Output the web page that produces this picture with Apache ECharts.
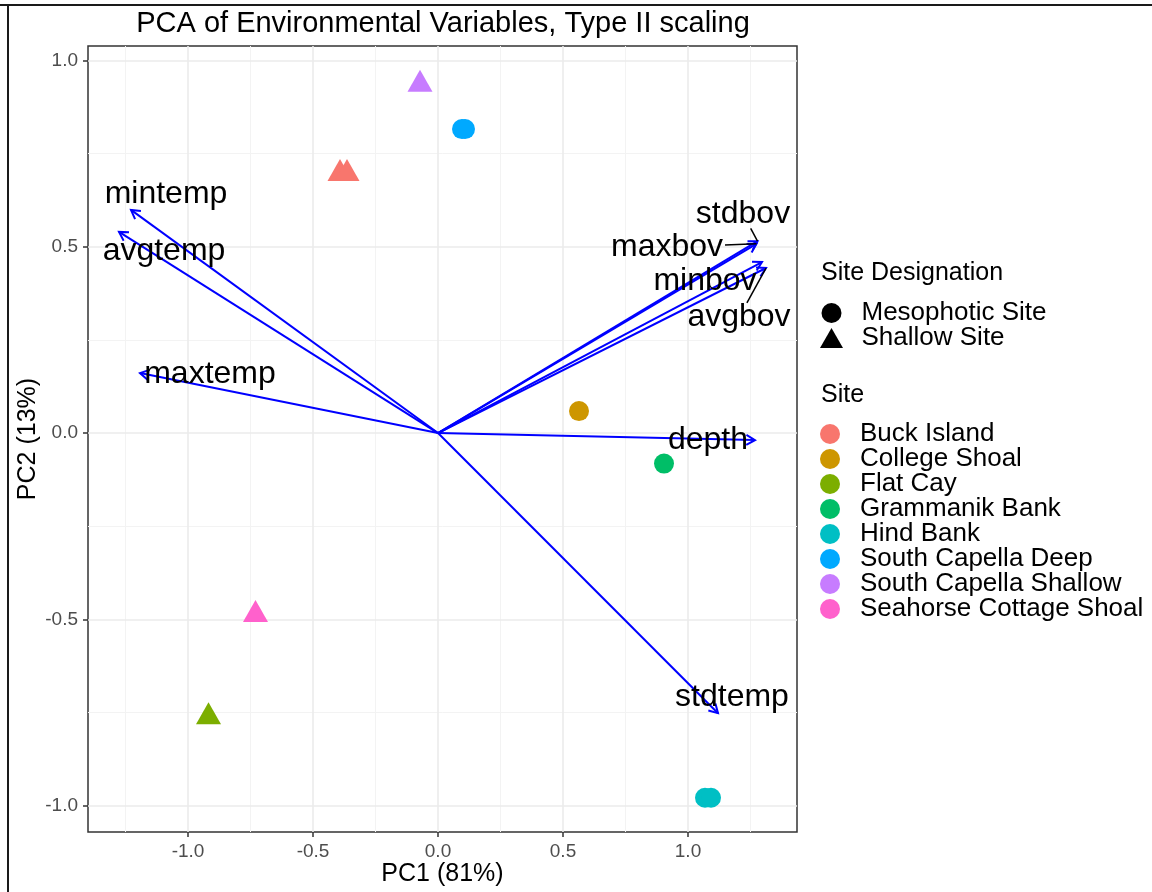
<!DOCTYPE html>
<html><head><meta charset="utf-8">
<script src="https://cdn.jsdelivr.net/npm/echarts@6/dist/echarts.min.js"></script>
<style>html,body{margin:0;padding:0;background:#fff}#c{width:1152px;height:892px}</style>
</head><body><div id="c"></div>
<script>
const FONT = '"Liberation Sans", Arial, Helvetica, sans-serif';

// ---- axis ticks ----
const xTicks = [-1.0, -0.5, 0.0, 0.5, 1.0];
const yTicks = [-1.0, -0.5, 0.0, 0.5, 1.0];
const xMinor = [-1.25, -0.75, -0.25, 0.25, 0.75, 1.25];
const yMinor = [-0.75, -0.25, 0.25, 0.75];

// ---- site scores (PC1, PC2) ----
const sites = ['Buck Island', 'College Shoal', 'Flat Cay', 'Grammanik Bank', 'Hind Bank',
  'South Capella Deep', 'South Capella Shallow', 'Seahorse Cottage Shoal'];
const siteDesignation = ['Shallow Site', 'Mesophotic Site', 'Shallow Site', 'Mesophotic Site',
  'Mesophotic Site', 'Mesophotic Site', 'Shallow Site', 'Shallow Site'];
const buckIsland = [[-0.392, 0.706], [-0.364, 0.706]];
const collegeShoal = [[0.564, 0.059]];
const flatCay = [[-0.918, -0.752]];
const grammanikBank = [[0.904, -0.082]];
const hindBank = [[1.068, -0.979], [1.092, -0.979]];
const southCapellaDeep = [[0.096, 0.816], [0.108, 0.816]];
const southCapellaShallow = [[-0.072, 0.946]];
const seahorseCottageShoal = [[-0.730, -0.478]];
const siteScores = [buckIsland, collegeShoal, flatCay, grammanikBank, hindBank,
  southCapellaDeep, southCapellaShallow, seahorseCottageShoal];

// ---- variable loadings (arrows) ----
const varNames = ['mintemp', 'avgtemp', 'maxtemp', 'stdbov', 'maxbov', 'minbov', 'avgbov', 'depth', 'stdtemp'];
const varPC1 = [-1.228, -1.276, -1.192, 1.278, 1.274, 1.296, 1.312, 1.268, 1.120];
const varPC2 = [0.599, 0.540, 0.161, 0.515, 0.508, 0.459, 0.443, -0.019, -0.752];
// label anchor positions (data units, repelled)
const labelPC1 = [-1.088, -1.096, -0.912, 1.220, 0.916, 1.068, 1.204, 1.080, 1.176];
const labelPC2 = [0.642, 0.489, 0.158, 0.588, 0.499, 0.408, 0.311, -0.019, -0.709];
const leaderLines = ['stdbov', 'maxbov', 'avgbov'];

// ---- styles ----
const siteColors = ['#F8766D', '#CD9600', '#7CAE00', '#00BE67', '#00BFC4', '#00A9FF', '#C77CFF', '#FF61CC'];
const LABEL_SIZE = 32;
const TRI_ICON = 'path://M0,20L11.5,0L23,20Z';

const measureCtx = document.createElement('canvas').getContext('2d');

function renderArrow(params, api) {
  const o = api.coord([0, 0]);
  const t = api.coord([api.value(0), api.value(1)]);
  const ang = Math.atan2(t[1] - o[1], t[0] - o[0]);
  const L = 10, a = Math.PI / 6;
  const p1 = [t[0] - L * Math.cos(ang - a), t[1] - L * Math.sin(ang - a)];
  const p2 = [t[0] - L * Math.cos(ang + a), t[1] - L * Math.sin(ang + a)];
  return {
    type: 'group', children: [
      { type: 'line', shape: { x1: o[0], y1: o[1], x2: t[0], y2: t[1] }, style: { stroke: '#0000FF', lineWidth: 2 } },
      { type: 'polyline', shape: { points: [p1, t, p2] }, style: { stroke: '#0000FF', lineWidth: 2, fill: null } }
    ]
  };
}

function renderLabel(params, api) {
  const i = params.dataIndex;
  const name = varNames[i];
  const c = api.coord([api.value(0), api.value(1)]);
  const t = api.coord([api.value(2), api.value(3)]);
  const children = [];
  if (leaderLines.indexOf(name) >= 0) {
    measureCtx.font = LABEL_SIZE + 'px ' + FONT;
    const w = measureCtx.measureText(name).width;
    const hw = w / 2 + 2, hh = LABEL_SIZE * 0.45;
    const dx = t[0] - c[0], dy = t[1] - c[1];
    const s = Math.min(dx ? hw / Math.abs(dx) : Infinity, dy ? hh / Math.abs(dy) : Infinity);
    if (s < 1) {
      children.push({ type: 'line', shape: { x1: c[0] + dx * s, y1: c[1] + dy * s, x2: t[0], y2: t[1] },
        style: { stroke: '#000', lineWidth: 1.5 } });
    }
  }
  children.push({ type: 'text', x: c[0], y: c[1],
    style: { text: name, fill: '#000', font: LABEL_SIZE + 'px ' + FONT, align: 'center', verticalAlign: 'middle' } });
  return { type: 'group', children: children };
}

const gridLines = [].concat(
  xMinor.map(v => ({ xAxis: v, lineStyle: { color: '#F3F3F3', width: 1 } })),
  yMinor.map(v => ({ yAxis: v, lineStyle: { color: '#F3F3F3', width: 1 } })),
  xTicks.map(v => ({ xAxis: v, lineStyle: { color: '#EBEBEB', width: 1.6 } })),
  yTicks.map(v => ({ yAxis: v, lineStyle: { color: '#EBEBEB', width: 1.6 } }))
);

const series = [
  { type: 'scatter', name: '__grid', data: [], z: 1, silent: true,
    markLine: { silent: true, z: 1, symbol: ['none', 'none'], label: { show: false }, animation: false,
      lineStyle: { type: 'solid' }, data: gridLines } },
  { type: 'scatter', name: 'Mesophotic Site', data: [], itemStyle: { color: '#000', opacity: 1 } },
  { type: 'scatter', name: 'Shallow Site', data: [], itemStyle: { color: '#000', opacity: 1 } },
  { type: 'custom', name: '__arrows', z: 3, silent: true, renderItem: renderArrow, clip: false,
    data: varNames.map((n, i) => [varPC1[i], varPC2[i]]) }
];
sites.forEach((s, i) => {
  const tri = siteDesignation[i] === 'Shallow Site';
  series.push({ type: 'scatter', name: s, z: 4, data: siteScores[i],
    symbol: tri ? 'triangle' : 'circle', symbolSize: tri ? [25, 22] : 20,
    itemStyle: { color: siteColors[i], opacity: 1 } });
});
series.push({ type: 'custom', name: '__labels', z: 6, silent: true, renderItem: renderLabel, clip: false,
  data: varNames.map((n, i) => [labelPC1[i], labelPC2[i], varPC1[i], varPC2[i]]) });

const legendText = { fontSize: 26, lineHeight: 25, color: '#000', fontFamily: FONT, padding: [0, 0, 0, 13] };

const chart = echarts.init(document.getElementById('c'), null, { renderer: 'canvas' });
chart.setOption({
  animation: false,
  backgroundColor: '#fff',
  title: [
    { text: 'PCA of Environmental Variables, Type II scaling', left: 443, top: 9, textAlign: 'center', padding: 0,
      textStyle: { fontSize: 29, fontWeight: 'normal', color: '#000', fontFamily: FONT } },
    { text: 'Site Designation', left: 821, top: 261, padding: 0,
      textStyle: { fontSize: 25, fontWeight: 'normal', color: '#000', fontFamily: FONT } },
    { text: 'Site', left: 821, top: 383, padding: 0,
      textStyle: { fontSize: 25, fontWeight: 'normal', color: '#000', fontFamily: FONT } }
  ],
  legend: [
    { data: [{ name: 'Mesophotic Site', icon: 'circle', itemStyle: { color: '#000', opacity: 1 } },
             { name: 'Shallow Site', icon: TRI_ICON, itemStyle: { color: '#000', opacity: 1 } }],
      orient: 'vertical', left: 820, top: 300, itemWidth: 24, itemHeight: 20, itemGap: -1, padding: 0,
      selectedMode: false, textStyle: legendText },
    { data: sites.map(n => ({ name: n, icon: 'circle' })),
      orient: 'vertical', left: 820, top: 421, itemWidth: 24, itemHeight: 20, itemGap: -1, padding: 0,
      selectedMode: false, textStyle: legendText }
  ],
  grid: { left: 88, right: 355, top: 46, bottom: 60, show: true, borderColor: '#333333', borderWidth: 1.5,
    backgroundColor: '#fff', containLabel: false },
  xAxis: {
    type: 'value', min: -1.40, max: 1.436,
    name: 'PC1 (81%)', nameLocation: 'middle', nameGap: 30, nameMoveOverlap: false,
    nameTextStyle: { fontSize: 25, color: '#000', fontFamily: FONT },
    axisLine: { show: false, onZero: false },
    axisTick: { show: true, customValues: xTicks, length: 5, lineStyle: { color: '#333', width: 1.5 } },
    axisLabel: { customValues: xTicks, formatter: v => Number(v).toFixed(1), color: '#4D4D4D', fontSize: 19,
      fontFamily: FONT, margin: 10 },
    splitLine: { show: false }
  },
  yAxis: {
    type: 'value', min: -1.071, max: 1.039,
    name: 'PC2 (13%)', nameLocation: 'middle', nameGap: 47, nameMoveOverlap: false,
    nameTextStyle: { fontSize: 25, color: '#000', fontFamily: FONT },
    axisLine: { show: false, onZero: false },
    axisTick: { show: true, customValues: yTicks, length: 5, lineStyle: { color: '#333', width: 1.5 } },
    axisLabel: { customValues: yTicks, formatter: v => Number(v).toFixed(1), color: '#4D4D4D', fontSize: 19,
      fontFamily: FONT, margin: 10 },
    splitLine: { show: false }
  },
  graphic: [
    { type: 'line', shape: { x1: 0, y1: 5, x2: 1152, y2: 5 }, style: { stroke: '#1a1a1a', lineWidth: 2 }, z: 100 },
    { type: 'line', shape: { x1: 8, y1: 5, x2: 8, y2: 892 }, style: { stroke: '#1a1a1a', lineWidth: 2 }, z: 100 }
  ],
  series: series
});
</script></body></html>
